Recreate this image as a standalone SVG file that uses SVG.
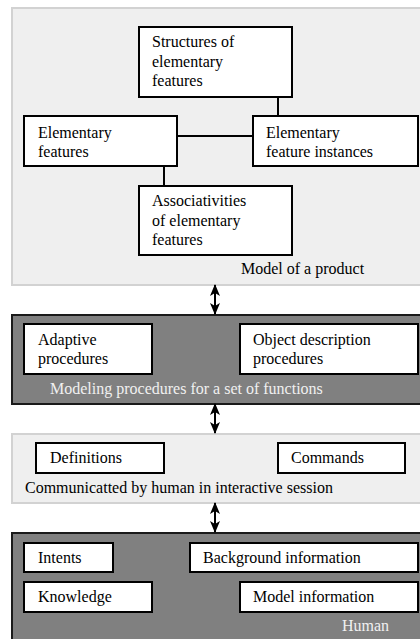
<svg xmlns="http://www.w3.org/2000/svg" width="420" height="639" viewBox="0 0 420 639">
<defs>
<style>
.pl{fill:#efefef;stroke:#d2d2d2;stroke-width:2}
.pd{fill:#808080;stroke:#1a1a1a;stroke-width:2}
.b{fill:#fff;stroke:#000;stroke-width:2}
text{font-family:"Liberation Serif","Times New Roman",serif;font-size:16px;fill:#000}
.w{fill:#f0f0f0}
.c{stroke:#000;stroke-width:2;fill:none}
</style>
<marker id="ah" viewBox="0 0 12 10" refX="11" refY="5" markerWidth="12" markerHeight="10" markerUnits="userSpaceOnUse" orient="auto-start-reverse">
<path d="M0,0 L12,5 L0,10 L3,5 Z" fill="#000"/>
</marker>
</defs>
<rect x="0" y="0" width="420" height="639" fill="#fff"/>
<g id="panel-model">
<rect class="pl" x="12" y="8" width="420" height="277"/>
<text x="241" y="274">Model of a product</text>
</g>
<g id="panel-procedures">
<rect class="pd" x="12" y="315" width="420" height="89"/>
<text class="w" x="50" y="394">Modeling procedures for a set of functions</text>
</g>
<g id="panel-communicated">
<rect class="pl" x="12" y="434" width="420" height="69"/>
<text x="25" y="493">Communicatted by human in interactive session</text>
</g>
<g id="panel-human">
<rect class="pd" x="12" y="533" width="420" height="120"/>
<text class="w" x="342" y="631">Human</text>
</g>
<g id="connectors">
<line class="c" x1="278" y1="97" x2="278" y2="116"/>
<line class="c" x1="177" y1="136" x2="253" y2="136"/>
<line class="c" x1="164" y1="166" x2="164" y2="186"/>
<line class="c" x1="215" y1="285" x2="215" y2="314" marker-start="url(#ah)" marker-end="url(#ah)"/>
<line class="c" x1="215" y1="404" x2="215" y2="433" marker-start="url(#ah)" marker-end="url(#ah)"/>
<line class="c" x1="215" y1="503" x2="215" y2="532" marker-start="url(#ah)" marker-end="url(#ah)"/>
</g>
<g id="structures">
<rect class="b" x="139" y="27" width="153" height="70"/>
<text x="152" y="47">Structures of</text>
<text x="152" y="66.5">elementary</text>
<text x="152" y="86">features</text>
</g>
<g id="elementary-features">
<rect class="b" x="24" y="116" width="153" height="50"/>
<text x="38" y="138">Elementary</text>
<text x="38" y="157">features</text>
</g>
<g id="elementary-feature-instances">
<rect class="b" x="253" y="116" width="165" height="50"/>
<text x="266" y="138">Elementary</text>
<text x="266" y="157">feature instances</text>
</g>
<g id="associativities">
<rect class="b" x="139" y="186" width="153" height="69"/>
<text x="152" y="206">Associativities</text>
<text x="152" y="225.5">of elementary</text>
<text x="152" y="245">features</text>
</g>
<g id="adaptive">
<rect class="b" x="24" y="324" width="128" height="50"/>
<text x="38" y="345">Adaptive</text>
<text x="38" y="364">procedures</text>
</g>
<g id="object-description">
<rect class="b" x="240" y="324" width="178" height="50"/>
<text x="253" y="345">Object description</text>
<text x="253" y="364">procedures</text>
</g>
<g id="definitions">
<rect class="b" x="36" y="443" width="128" height="30"/>
<text x="50" y="463">Definitions</text>
</g>
<g id="commands">
<rect class="b" x="278" y="443" width="127" height="30"/>
<text x="291" y="463">Commands</text>
</g>
<g id="intents">
<rect class="b" x="24" y="543" width="89" height="29"/>
<text x="38" y="563">Intents</text>
</g>
<g id="background">
<rect class="b" x="190" y="543" width="228" height="29"/>
<text x="203" y="563">Background information</text>
</g>
<g id="knowledge">
<rect class="b" x="24" y="582" width="128" height="30"/>
<text x="38" y="602">Knowledge</text>
</g>
<g id="model-information">
<rect class="b" x="240" y="582" width="178" height="30"/>
<text x="253" y="602">Model information</text>
</g>
</svg>
